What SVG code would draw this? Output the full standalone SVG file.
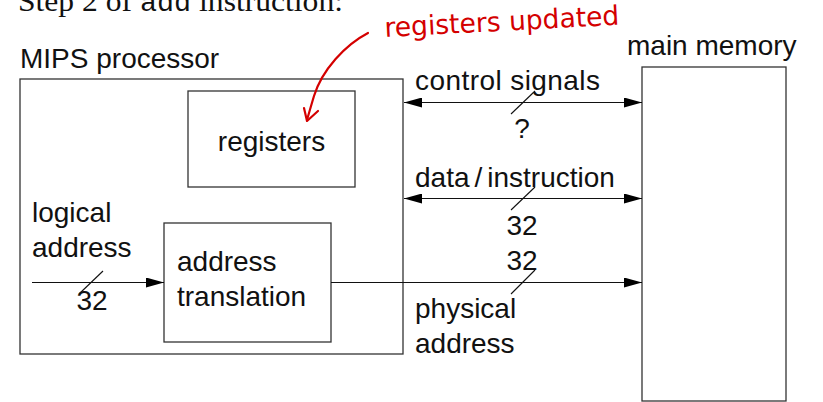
<svg xmlns="http://www.w3.org/2000/svg" width="823" height="402" viewBox="0 0 823 402">
  <defs>
    <marker id="head" viewBox="0 0 18 10" refX="18" refY="5" markerWidth="18" markerHeight="10" markerUnits="userSpaceOnUse" orient="auto-start-reverse">
      <path d="M0,0 L18,5 L0,10 Z" fill="#000"/>
    </marker>
    <style>
      .box { fill: none; stroke: #333; stroke-width: 1.3; }
      .wire { fill: none; stroke: #111; stroke-width: 1.2; }
      .tick { fill: none; stroke: #111; stroke-width: 1.1; }
      .lbl { font-family: "Liberation Sans", Arial, sans-serif; font-size: 28px; fill: #111; }
      .mid { text-anchor: middle; }
      .note { font-family: "DejaVu Sans", sans-serif; font-size: 27px; fill: #d40000; }
      .ink { fill: none; stroke: #d40000; stroke-width: 2.2; stroke-linecap: round; stroke-linejoin: round; }
    </style>
  </defs>
  <rect width="823" height="402" fill="#fff"/>

  <!-- heading line, partly above the frame -->
  <text x="18" y="11" font-family="'Liberation Serif', serif" font-size="30" fill="#111" textLength="325" lengthAdjust="spacingAndGlyphs">Step 2 of <tspan font-family="'Liberation Mono', monospace" font-size="27">add</tspan> instruction:</text>

  <!-- processor -->
  <g id="processor">
    <rect class="box" x="20" y="79" width="383" height="275"/>
    <text class="lbl" x="20" y="68">MIPS processor</text>
  </g>

  <g id="registers">
    <rect class="box" x="188" y="91" width="167" height="96"/>
    <text class="lbl mid" x="271.5" y="151">registers</text>
  </g>

  <g id="address-translation">
    <rect class="box" x="164" y="223" width="167" height="119"/>
    <text class="lbl" x="177" y="271">address</text>
    <text class="lbl" x="177" y="306">translation</text>
  </g>

  <g id="main-memory">
    <rect class="box" x="642" y="67" width="144" height="334"/>
    <text class="lbl" x="627" y="55">main memory</text>
  </g>

  <!-- buses between processor and memory -->
  <g id="connectors">
    <line class="wire" x1="404" y1="102.5" x2="642" y2="102.5" marker-start="url(#head)" marker-end="url(#head)"/>
    <line class="tick" x1="511" y1="114" x2="535" y2="91"/>
    <text class="lbl" x="415" y="90" textLength="185">control signals</text>
    <text class="lbl mid" x="522" y="138">?</text>

    <line class="wire" x1="404" y1="198.5" x2="642" y2="198.5" marker-start="url(#head)" marker-end="url(#head)"/>
    <line class="tick" x1="511" y1="210" x2="535" y2="187"/>
    <text class="lbl" x="415" y="187">data<tspan dx="5">/</tspan><tspan dx="5">instruction</tspan></text>
    <text class="lbl mid" x="522" y="235">32</text>

    <line class="wire" x1="32" y1="282.5" x2="164" y2="282.5" marker-end="url(#head)"/>
    <line class="tick" x1="79" y1="294" x2="103" y2="271"/>
    <text class="lbl" x="32" y="222">logical</text>
    <text class="lbl" x="32" y="257">address</text>
    <text class="lbl mid" x="92" y="310">32</text>

    <line class="wire" x1="331" y1="282.5" x2="642" y2="282.5" marker-end="url(#head)"/>
    <line class="tick" x1="511" y1="294" x2="535" y2="270"/>
    <text class="lbl mid" x="522" y="270">32</text>
    <text class="lbl" x="415" y="318">physical</text>
    <text class="lbl" x="415" y="353">address</text>
  </g>

  <!-- handwritten remark -->
  <g id="remark">
    <text class="note" x="385" y="37" textLength="235" lengthAdjust="spacingAndGlyphs" transform="rotate(-3 385 37)">registers updated</text>
    <path class="ink" d="M368,33 C345,45 322,70 314,96 C311,106 309,113 307,120"/>
    <path class="ink" d="M304,108 L307,121 L318,111"/>
  </g>
</svg>
